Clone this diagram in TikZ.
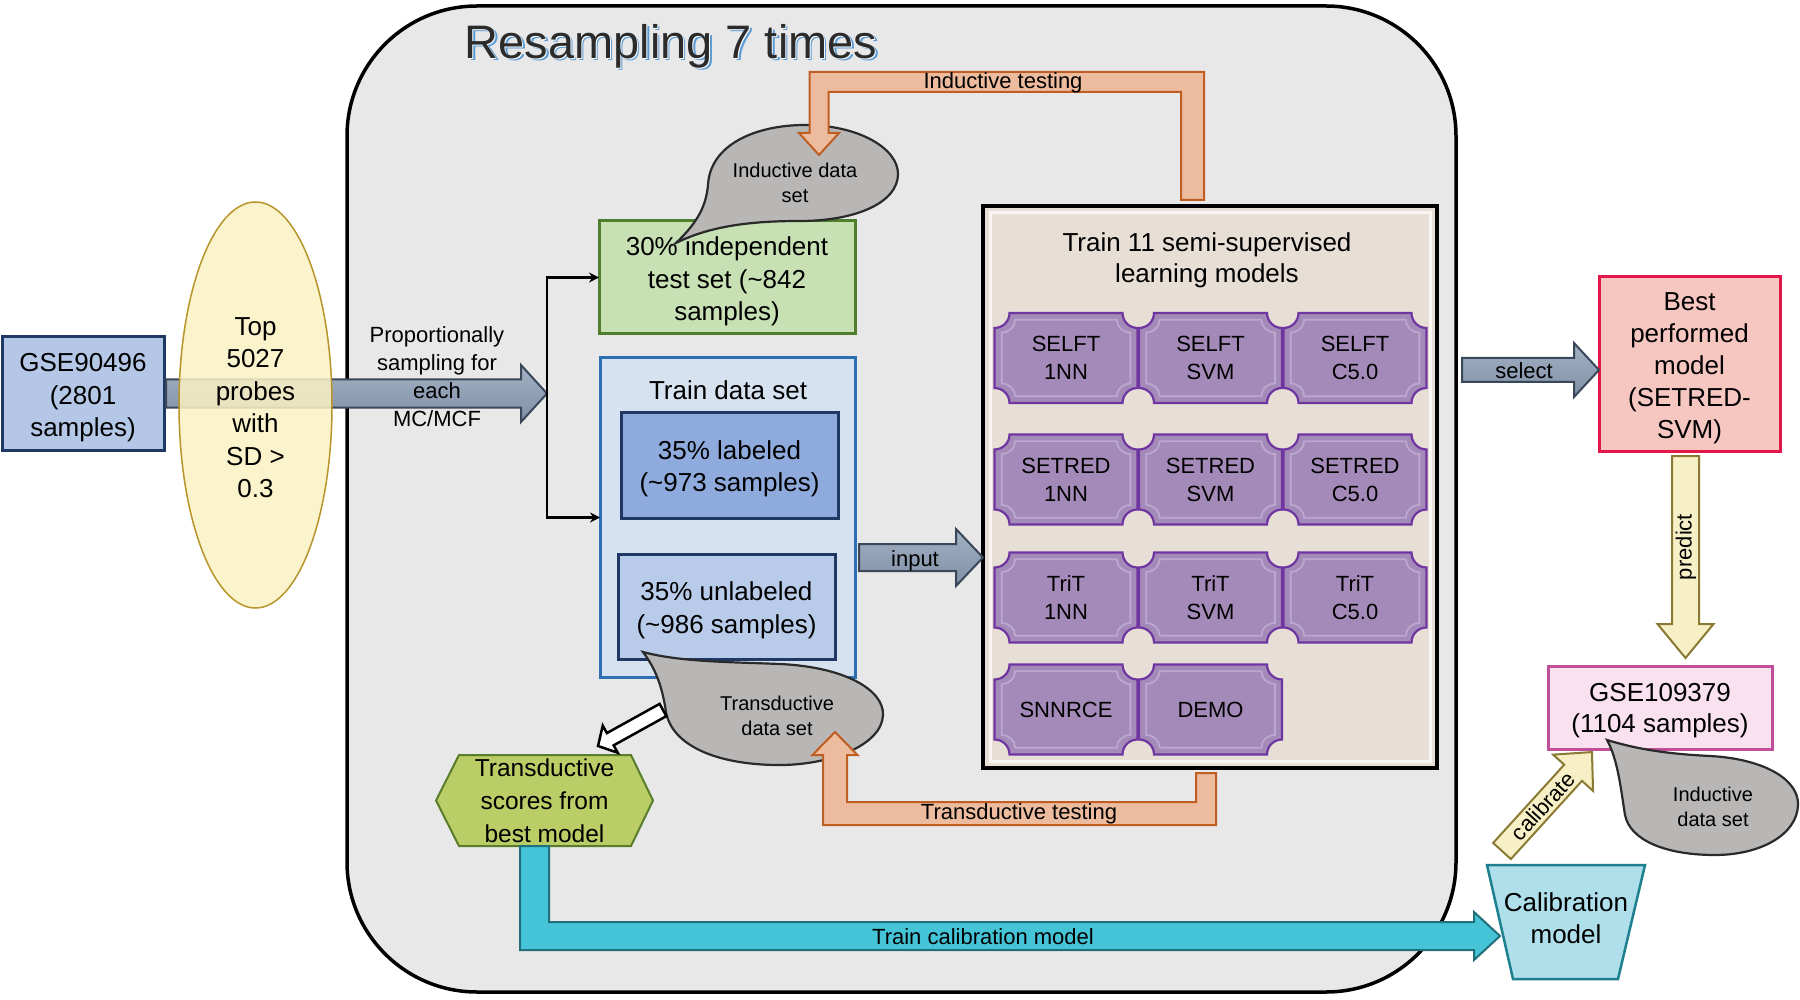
\documentclass[tikz,border=0pt]{standalone}
\usepackage{fontspec}
\setmainfont{Liberation Sans}
\usetikzlibrary{calc,arrows.meta,shapes.geometric}

\definecolor{bgc}{HTML}{E8E8E8}
\definecolor{navy}{HTML}{1F3864}
\definecolor{gseblue}{HTML}{B4C7E7}
\definecolor{ellfill}{HTML}{FBF1C3}
\definecolor{ellline}{HTML}{B8952A}
\definecolor{arrline}{HTML}{3A4758}
\definecolor{arrtop}{HTML}{A3B1C4}
\definecolor{arrmid}{HTML}{D2DAE4}
\definecolor{arrbot}{HTML}{7F8FA5}
\definecolor{testfill}{HTML}{C7E1B5}
\definecolor{testline}{HTML}{4F7F2D}
\definecolor{trainfill}{HTML}{D6E2EF}
\definecolor{trainline}{HTML}{2E6EB2}
\definecolor{labfill}{HTML}{8FAADC}
\definecolor{unlabfill}{HTML}{B8CBE9}
\definecolor{callfill}{HTML}{B9B6B6}
\definecolor{callline}{HTML}{2A2A2A}
\definecolor{peach}{HTML}{EDBC9E}
\definecolor{peachline}{HTML}{BE5E22}
\definecolor{modfill}{HTML}{E7DFD6}
\definecolor{tickfill}{HTML}{A48AB8}
\definecolor{tickline}{HTML}{6F35A0}
\definecolor{ticklight}{HTML}{BCA8CE}
\definecolor{bestfill}{HTML}{F6C6C1}
\definecolor{bestline}{HTML}{E2174A}
\definecolor{gsetwofill}{HTML}{F9E1EF}
\definecolor{gsetwoline}{HTML}{BE4F98}
\definecolor{hexfill}{HTML}{BACD67}
\definecolor{hexline}{HTML}{5A7D2C}
\definecolor{tealfill}{HTML}{45C3D7}
\definecolor{tealline}{HTML}{23707D}
\definecolor{calfill}{HTML}{AEDFEA}
\definecolor{calline}{HTML}{1E7F8E}
\definecolor{yelfill}{HTML}{F7EFC6}
\definecolor{yelline}{HTML}{8A7A33}
\definecolor{titleblue}{HTML}{5B9BD5}
\definecolor{titletext}{HTML}{2B2B2B}

\newcommand{\blockarrow}[6][]{%
  \path let \p1=($(#3)-(#2)$) in \pgfextra{%
    \pgfmathparse{atan2(\y1,\x1)}\xdef\baang{\pgfmathresult}%
    \pgfmathparse{veclen(\x1,\y1)}\xdef\balen{\pgfmathresult}};
  \begin{scope}[shift={(#2)}, rotate=\baang]
    \draw[#1] (0,#4) -- ({\balen-#6},#4) -- ({\balen-#6},#5) -- (\balen,0)
      -- ({\balen-#6},-#5) -- ({\balen-#6},-#4) -- (0,-#4) -- cycle;
  \end{scope}}

\newcommand{\ticketpath}{(-56.5,-45) .. controls (-56.5+0,-36.7) and (-63.2,-30) .. (-71.5,-30)
  -- (-71.5,30) .. controls (-63.2,30) and (-56.5,36.7) .. (-56.5,45)
  -- (56.5,45) .. controls (56.5,36.7) and (63.2,30) .. (71.5,30)
  -- (71.5,-30) .. controls (63.2,-30) and (56.5,-36.7) .. (56.5,-45) -- cycle}

\newcommand{\ticket}[4]{%
  \begin{scope}[shift={(#2,#3)}]
    \draw[fill=tickfill, draw=tickline, line width=2.2pt] \ticketpath;
    \draw[ticklight, line width=1.8pt, xscale=0.9, yscale=0.85] \ticketpath;
  \end{scope}
  \node[fsT, align=center] (#1) at (#2,#3) {#4};}

\tikzset{
  every node/.style={outer sep=0pt, inner sep=0pt},
  fsA/.style={font=\fontsize{26}{32.5}\selectfont},
  fsT/.style={font=\fontsize{22}{28}\selectfont},
  fsC/.style={font=\fontsize{20}{25}\selectfont},
  box/.style={draw, line width=3pt, align=center, fsA},
  grayarr/.style={draw=arrline, line width=2pt, top color=arrtop, middle color=arrmid, bottom color=arrbot},
  yelarr/.style={draw=yelline, line width=2pt, fill=yelfill},
  hollowarr/.style={draw=black, line width=2.5pt, fill=white},
  peacharr/.style={draw=peachline, line width=2pt, fill=peach},
  tealarr/.style={draw=tealline, line width=2pt, fill=tealfill},
  callout/.style={draw=callline, line width=2.2pt, fill=callfill},
  brk/.style={line width=2.5pt, -{Stealth[length=10pt,width=10pt]}},
  titlef/.style={font=\fontsize{47}{54}\selectfont}
}

\begin{document}
\begin{tikzpicture}[x=1pt,y=-1pt]
\useasboundingbox (0,0) rectangle (1800,1000);
\fill[white] (0,0) rectangle (1800,1000);

% container
\node[draw=black, line width=3.5pt, fill=bgc, rounded corners=130pt,
      minimum width=1109pt, minimum height=986pt] (resamp) at (901.5,499) {};
\node[titlef, text=titleblue] (titleA) at (673.5,48.5) {Resampling 7 times};
\node[titlef, text=white] (titleB) at (672,47) {Resampling 7 times};
\node[titlef, text=titletext] (title) at (671,46) {Resampling 7 times};

% left part
\node[box, draw=navy, fill=gseblue, minimum width=162pt, minimum height=113pt] (gse) at (83,393.5) {};
\node[fsA, align=center] (gset) at (83,398) {GSE90496\\(2801\\samples)};
\coordinate (gseOut) at ($(gse.east)+(2,0)$);
\coordinate (split) at (547,393.5);
\blockarrow[grayarr]{gseOut}{split}{14}{28.5}{26}
\node[ellipse, draw=ellline, line width=1.5pt, fill=ellfill, fill opacity=0.85,
      minimum width=153pt, minimum height=406pt] (topp) at (255.5,405) {};
\node[fsA, align=center] (toppt) at (255.5,407.5) {Top\\5027\\probes\\with\\SD >\\0.3};
\node[fsT, align=center] (lbsamp) at (437,377) {Proportionally\\sampling for\\each\\MC/MCF};

% test / train
\node[box, draw=testline, fill=testfill, minimum width=256pt, minimum height=113pt] (test) at (727,277.5) {};
\node[fsA, align=center] (testt) at (727,281.5) {30\% independent\\test set (\textasciitilde842\\samples)};
\node[box, draw=trainline, fill=trainfill, minimum width=255pt, minimum height=319pt] (train) at (727.5,517.5) {};
\node[fsA] (traint) at (728,390) {Train data set};
\node[box, draw=navy, fill=labfill, minimum width=217pt, minimum height=106pt] (lab) at (729.5,465) {};
\node[fsA, align=center] (labt) at (729.5,469) {35\% labeled\\(\textasciitilde973 samples)};
\node[box, draw=navy, fill=unlabfill, minimum width=217pt, minimum height=105pt] (unlab) at (726.5,606.5) {};
\node[fsA, align=center] (unlabt) at (726.5,610.5) {35\% unlabeled\\(\textasciitilde986 samples)};
\draw[brk] (split) |- (test.west);
\draw[brk] (split) |- (train.west);

% models box
\node[draw=black, line width=4pt, fill=modfill, minimum width=454pt, minimum height=562pt] (models) at (1210,487) {};
\draw[white!70!modfill, line width=3pt] (990,213) rectangle (1430,761);
\node[align=center, font=\fontsize{26}{31}\selectfont] (modt) at (1207,260) {Train 11 semi-supervised\\learning models};
\ticket{t11}{1066}{358}{SELFT\\1NN}
\ticket{t12}{1210.5}{358}{SELFT\\SVM}
\ticket{t13}{1355}{358}{SELFT\\C5.0}
\ticket{t21}{1066}{479.5}{SETRED\\1NN}
\ticket{t22}{1210.5}{479.5}{SETRED\\SVM}
\ticket{t23}{1355}{479.5}{SETRED\\C5.0}
\ticket{t31}{1066}{597.5}{TriT\\1NN}
\ticket{t32}{1210.5}{597.5}{TriT\\SVM}
\ticket{t33}{1355}{597.5}{TriT\\C5.0}
\ticket{t41}{1066}{709.5}{SNNRCE}
\ticket{t42}{1210.5}{709.5}{DEMO}

% input arrow
\coordinate (inS) at ($(train.east)+(4,40)$);
\coordinate (inT) at (models.west |- inS);
\blockarrow[grayarr]{inS}{inT}{13.5}{28.5}{27}
\node[fsT] (lbin) at (915,561) {input};

% inductive callout
\path[callout] (676,243) .. controls (698,222) and (706,206) .. (708,185)
  .. controls (710,145) and (755,125) .. (805,125)
  .. controls (858,125) and (898,148) .. (898,174)
  .. controls (898,203) and (855,221) .. (800,221)
  .. controls (755,221) and (712,225) .. (676,243) -- cycle;
\node[fsC, align=center] (indcall) at (795,183) {Inductive data\\set};

% inductive testing arrow
\coordinate (indS) at ($(models.north)+(-17.5,-6)$);
\coordinate (indT) at (819,155);
\coordinate (indB) at (1000,82);
\path[peacharr] ($(indS)+(11.5,0)$) -- ($(indS|-indB)+(11.5,-10)$) -- ($(indT|-indB)+(-9.5,-10)$)
  -- ($(indT)+(-9.5,-22)$) -- ($(indT)+(-20,-22)$) -- (indT) -- ($(indT)+(20,-22)$)
  -- ($(indT)+(9.5,-22)$) -- ($(indT|-indB)+(9.5,10)$) -- ($(indS|-indB)+(-11.5,10)$)
  -- ($(indS)+(-11.5,0)$) -- cycle;
\node[fsT] (lbind) at (1003,83) {Inductive testing};

% transductive callout
\path[callout] (643,652) .. controls (680,662) and (730,662) .. (780,664)
  .. controls (845,667) and (884,690) .. (883,715)
  .. controls (882,745) and (830,766) .. (775,765)
  .. controls (715,764) and (672,745) .. (666,712)
  .. controls (662,685) and (655,668) .. (643,652) -- cycle;
\node[fsC, align=center] (trcall) at (777,716) {Transductive\\data set};

% hexagon
\path[draw=hexline, line width=2pt, fill=hexfill] (436,800.5) -- (459,755) -- (631,755) -- (653,800.5) -- (631,846) -- (459,846) -- cycle;
\node[font=\fontsize{24.5}{33}\selectfont, align=center, minimum width=217pt, minimum height=91pt] (hex) at (544.5,800.5)
  {Transductive\\scores from\\best model};

% hollow arrow
\coordinate (hoS) at (663,710);
\coordinate (hoT) at ($(hex.north)+(53.5,-9)$);
\blockarrow[hollowarr]{hoS}{hoT}{7}{15.5}{14}

% transductive testing arrow
\coordinate (trS) at ($(models.south)+(-4,5)$);
\coordinate (trT) at (835,732);
\coordinate (trB) at (1000,813.5);
\path[peacharr] ($(trS)+(-10,0)$) -- ($(trS)+(10,0)$) -- ($(trS|-trB)+(10,11.5)$) -- ($(trT|-trB)+(-12,11.5)$)
  -- ($(trT)+(-12,23)$) -- ($(trT)+(-22.5,23)$) -- (trT) -- ($(trT)+(22.5,23)$) -- ($(trT)+(12,23)$)
  -- ($(trT|-trB)+(12,-11.5)$) -- ($(trS|-trB)+(-10,-11.5)$) -- cycle;
\node[fsT] (lbtr) at (1019,814) {Transductive testing};

% right part
\node[box, draw=bestline, fill=bestfill, minimum width=181pt, minimum height=174pt] (best) at (1689.5,364) {};
\node[align=center, font=\fontsize{26}{32}\selectfont] (bestt) at (1689.5,368) {Best\\performed\\model\\(SETRED-\\SVM)};
\coordinate (selS) at ($(models.east)+(25,-117)$);
\coordinate (selT) at (best.west |- selS);
\blockarrow[grayarr]{selS}{selT}{12}{27}{25}
\node[fsT] (lbsel) at (1524,371) {select};

\node[box, draw=gsetwoline, fill=gsetwofill, minimum width=224pt, minimum height=83pt] (gse2) at (1660,707.5) {};
\node[align=center, font=\fontsize{26}{31}\selectfont] (gse2t) at (1660,711) {GSE109379\\(1104 samples)};
\coordinate (prS) at ($(best.south)+(-4,5)$);
\coordinate (prT) at ($(gse2.north)+(25.5,-8)$);
\blockarrow[yelarr]{prS}{prT}{13.5}{28}{34}
\node[fsT, rotate=90] (lbpr) at (1686,547) {predict};

\path[callout] (1607,740) .. controls (1640,750) and (1670,754) .. (1710,756)
  .. controls (1765,759) and (1799,780) .. (1798,805)
  .. controls (1797,835) and (1760,855) .. (1715,855)
  .. controls (1665,855) and (1630,840) .. (1625,815)
  .. controls (1621,790) and (1618,760) .. (1607,740) -- cycle;
\node[fsC, align=center] (rcall) at (1713,807) {Inductive\\data set};

% calibration model
\path[draw=calline, line width=2.5pt, fill=calfill] (1487,865) -- (1645,865) -- (1618,979) -- (1513,979) -- cycle;
\node[minimum width=158pt, minimum height=114pt] (calib) at (1566,922) {};
\node[align=center, font=\fontsize{26}{32}\selectfont] (calibt) at (1566,918) {Calibration\\model};

% teal arrow
\coordinate (tlS) at ($(hex.south)+(-10,0)$);
\coordinate (tlT) at ($(calib.west)+(13,14)$);
\path[tealarr] ($(tlS)+(-14.5,0)$) -- ($(tlS)+(14.5,0)$) -- ($(tlS|-tlT)+(14.5,-14)$) -- ($(tlT)+(-26,-14)$)
  -- ($(tlT)+(-26,-24)$) -- (tlT) -- ($(tlT)+(-26,24)$) -- ($(tlT)+(-26,14)$) -- ($(tlS|-tlT)+(-14.5,14)$) -- cycle;
\node[fsT] (lbtl) at (983,937) {Train calibration model};

% calibrate arrow
\coordinate (caS) at ($(calib.north)+(-64,-14)$);
\coordinate (caT) at ($(gse2.south)+(-68,3)$);
\blockarrow[yelarr]{caS}{caT}{12}{27}{28}
\node[fsT, rotate=47.7] (lbca) at (1543,806) {calibrate};

\end{tikzpicture}
\end{document}
